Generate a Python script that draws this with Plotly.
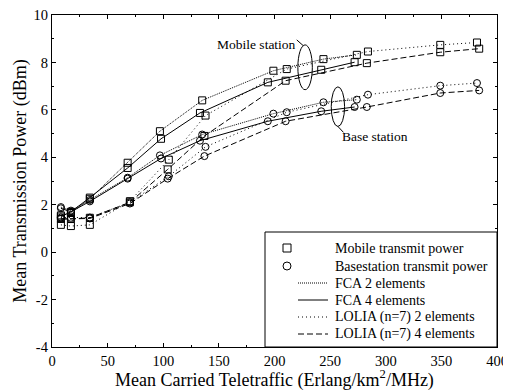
import plotly.graph_objects as go

# ---------------- data ----------------
fca2_x = [8, 17, 34, 68, 97, 135, 199, 244, 274]
fca2_mobile = [1.55, 1.65, 2.25, 3.77, 5.10, 6.40, 7.65, 8.14, 8.32]
fca2_base = [1.9, 1.75, 2.2, 3.14, 4.08, 4.96, 5.84, 6.32, 6.43]

fca4_x = [8, 17, 34, 68, 98, 133, 194, 242, 272]
fca4_mobile = [1.5, 1.7, 2.3, 3.55, 4.78, 5.87, 7.16, 7.69, 8.01]
fca4_base = [1.85, 1.7, 2.14, 3.1, 3.95, 4.7, 5.52, 5.94, 6.12]

lolia2_x = [8, 17, 34, 70, 105, 138, 211, 284, 349, 382]
lolia2_mobile = [1.15, 1.1, 1.15, 2.15, 3.9, 5.76, 7.72, 8.46, 8.74, 8.84]
lolia2_base = [1.46, 1.45, 1.46, 2.1, 3.2, 4.44, 5.9, 6.64, 7.02, 7.13]

lolia4_x = [8, 17, 34, 70, 104, 137, 210, 283, 349, 384]
lolia4_mobile = [1.4, 1.4, 1.45, 2.1, 3.49, 4.9, 7.23, 7.97, 8.43, 8.58]
lolia4_base = [1.4, 1.4, 1.42, 2.05, 3.1, 4.05, 5.52, 6.12, 6.71, 6.82]

y_tick_values = [-4, -2, 0, 2, 4, 6, 8, 10]
y_tick_labels = ["-4", "-2", "0", "2", "4", "6", "8", "10"]

scheme_names = ["FCA 2 elements", "FCA 4 elements",
                "LOLIA (n=7) 2 elements", "LOLIA (n=7) 4 elements"]
marker_names = ["Mobile transmit power", "Basestation transmit power"]

FONT = "Liberation Serif, Times New Roman, serif"
dashes = ["1px,1px", "solid", "1px,3px", "6px,3px"]

series = [
    (fca2_x, fca2_mobile, fca2_base),
    (fca4_x, fca4_mobile, fca4_base),
    (lolia2_x, lolia2_mobile, lolia2_base),
    (lolia4_x, lolia4_mobile, lolia4_base),
]

# page body has an 8px default margin; size the figure to compensate
OFF = 8
W, H = 503, 383
L, R, T, B = 44, 14, 7, 44
PW, PH = W - L - R, H - T - B


def px(xp):
    return (xp - OFF - L) / PW


def py(yp):
    return (H - B - (yp - OFF)) / PH


fig = go.Figure()
for (xs, ym, yb), dash in zip(series, dashes):
    for ys, sym in ((ym, "square-open"), (yb, "circle-open")):
        fig.add_trace(go.Scatter(
            x=xs, y=ys, mode="lines+markers", showlegend=False,
            line=dict(color="black", width=1, dash=dash),
            marker=dict(symbol=sym, size=7, color="black",
                        line=dict(width=1, color="black")),
        ))

axis_common = dict(
    showline=True, linecolor="black", linewidth=1.3, mirror="allticks",
    ticks="inside", ticklen=4, tickcolor="black", tickwidth=1,
    showgrid=False, zeroline=False, automargin=False,
    ticklabeloverflow="allow",
    tickfont=dict(family=FONT, size=14.5, color="black"),
)

fig.update_xaxes(
    range=[0, 400], dtick=50, tick0=0,
    minor=dict(dtick=25, ticks="inside", ticklen=2, tickcolor="black"),
    title=dict(text="Mean Carried Teletraffic (Erlang/km<sup>2</sup>/MHz)",
               font=dict(family=FONT, size=18, color="black"), standoff=5),
    **axis_common,
)
fig.update_yaxes(
    range=[-4, 10], tickvals=y_tick_values, ticktext=y_tick_labels,
    minor=dict(dtick=1, ticks="inside", ticklen=2, tickcolor="black"),
    title=dict(text="Mean Transmission Power (dBm)",
               font=dict(family=FONT, size=18, color="black"), standoff=2),
    **axis_common,
)

# station annotations
fig.add_annotation(x=184, y=8.74, text="Mobile station", showarrow=False,
                   font=dict(family=FONT, size=13.5, color="black"))
fig.add_annotation(x=290, y=4.87, text="Base station", showarrow=False,
                   font=dict(family=FONT, size=13.5, color="black"))
fig.add_shape(type="circle", xref="x", yref="y", x0=221, x1=234, y0=6.85, y1=8.74,
              line=dict(color="black", width=1))
fig.add_shape(type="circle", xref="x", yref="y", x0=251, x1=263, y0=5.3, y1=6.97,
              line=dict(color="black", width=1))
fig.add_shape(type="line", xref="x", yref="y", x0=220, y0=8.95, x1=226, y1=8.7,
              line=dict(color="black", width=1))
fig.add_shape(type="line", xref="x", yref="y", x0=257, y0=5.3, x1=262, y1=5.05,
              line=dict(color="black", width=1))

# ---------------- manual legend ----------------
fig.add_shape(type="rect", xref="paper", yref="paper", x0=px(265), x1=1.0,
              y0=0.0, y1=py(232), line=dict(color="black", width=1),
              fillcolor="white", layer="above")
rows = [248, 266, 283, 300, 317, 334]
labels = marker_names + scheme_names
for r, lab in zip(rows, labels):
    fig.add_annotation(xref="paper", yref="paper", x=px(333), y=py(r),
                       xanchor="left", yanchor="middle", text=lab, showarrow=False,
                       font=dict(family=FONT, size=14, color="black"))
fig.add_shape(type="rect", xref="paper", yref="paper",
              x0=px(283), x1=px(291), y0=py(rows[0] + 4), y1=py(rows[0] - 4),
              line=dict(color="black", width=1))
fig.add_shape(type="circle", xref="paper", yref="paper",
              x0=px(283), x1=px(291), y0=py(rows[1] + 4), y1=py(rows[1] - 4),
              line=dict(color="black", width=1))
for r, dash in zip(rows[2:], dashes):
    fig.add_shape(type="line", xref="paper", yref="paper",
                  x0=px(298), x1=px(328), y0=py(r), y1=py(r),
                  line=dict(color="black", width=1, dash=dash))

fig.update_layout(
    width=W, height=H,
    margin=dict(l=L, r=R, t=T, b=B),
    paper_bgcolor="white", plot_bgcolor="white",
    font=dict(family=FONT, color="black"),
    showlegend=False,
)

fig.write_html("out.html")
